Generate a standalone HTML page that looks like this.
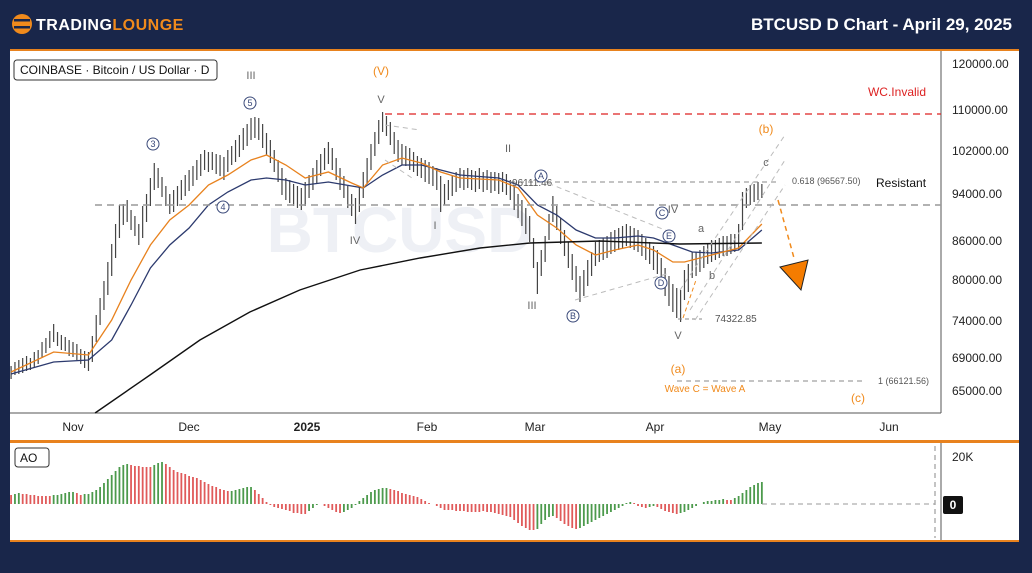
<!DOCTYPE html>
<html><head><meta charset="utf-8"><style>
html,body{margin:0;padding:0;background:#19264a;}
svg{display:block;font-family:"Liberation Sans",sans-serif;}
.ns{vector-effect:non-scaling-stroke;fill:none;}
</style></head><body>
<svg width="1032" height="573" viewBox="0 0 1032 573" xmlns="http://www.w3.org/2000/svg">
<rect width="1032" height="573" fill="#19264a"/>
<circle cx="22" cy="24" r="10" fill="#f08a1c"/>
<rect x="14" y="19" width="16" height="2.5" fill="#19264a"/><rect x="14" y="26" width="16" height="2.5" fill="#19264a"/>
<text x="36" y="30" font-size="16" font-weight="bold" fill="#fff" letter-spacing="0.5">TRADING<tspan fill="#f08a1c">LOUNGE</tspan></text>
<text x="1012" y="30" font-size="17" font-weight="bold" fill="#fff" text-anchor="end">BTCUSD D Chart - April 29, 2025</text>
<rect x="10" y="49" width="1009" height="391" fill="#fff"/>
<rect x="10" y="49" width="1009" height="2" fill="#e8821e"/>
<rect x="10" y="440" width="1009" height="3" fill="#e8821e"/>
<rect x="10" y="443" width="1009" height="98" fill="#fff"/>
<rect x="10" y="540" width="1009" height="2" fill="#e8821e"/>
<line x1="941" y1="51" x2="941" y2="413" stroke="#555"/>
<line x1="10" y1="413" x2="941" y2="413" stroke="#555"/>
<text x="400" y="252" font-size="64" fill="#eef0f5" text-anchor="middle" font-weight="bold">BTCUSD</text>

<g transform="translate(73,0) scale(3.87,1)">
<path class="ns" stroke="#444" stroke-width="1.2" d="M-16,366V379M-15,362V375M-14,360V374M-13,358V373M-12,356V371M-11,358V370M-10,352V367M-9,350V364M-8,342V358M-7,338V353M-6,331V348M-5,324V342M-4,332V346M-3,335V350M-2,337V351M-1,340V356M0,342V357M1,344V360M2,349V364M3,351V368M4,352V371M5,336V362M6,315V342M7,298V325M8,281V310M9,262V295M10,244V276M11,224V258M12,205V238M13,204V225M14,200V222M15,210V230M16,216V236M17,224V245M18,206V238M19,194V222M20,178V206M21,163V190M22,168V188M23,177V197M24,186V206M25,194V214M26,190V212M27,186V206M28,180V200M29,175V196M30,170V191M31,166V186M32,160V180M33,154V176M34,150V170M35,152V172M36,152V170M37,154V174M38,155V176M39,157V180M40,150V172M41,146V165M42,140V162M43,135V157M44,128V150M45,124V146M46,118V140M47,117V138M48,118V140M49,124V148M50,133V155M51,140V163M52,150V172M53,160V182M54,168V195M55,178V200M56,180V203M57,184V206M58,186V208M59,188V210M60,182V206M61,175V198M62,168V190M63,160V183M64,154V176M65,148V170M66,142V164M67,148V170M68,158V180M69,168V190M70,176V198M71,186V208M72,194V216M73,198V224M74,186V212M75,172V198M76,158V184M77,144V170M78,132V156M79,120V144M80,112V132M81,116V136M82,122V145M83,132V154M84,140V162M85,144V165M86,146V166M87,148V170M88,152V172M89,156V176M90,158V178M91,160V182M92,162V184M93,166V186M94,168V190M95,176V212M96,184V205M97,180V200M98,176V196M99,172V192M100,168V188M101,170V190M102,168V188M103,170V190M104,171V192M105,168V189M106,172V192M107,170V190M108,172V193M109,172V191M110,173V194M111,172V192M112,174V195M113,180V200M114,186V210M115,194V218M116,200V226M117,208V234M118,216V242M119,238V268M120,262V294M121,250V276M122,236V262M123,214V240M124,196V222M125,206V230M126,218V244M127,230V256M128,242V268M129,254V280M130,266V292M131,276V302M132,270V296M133,260V286M134,252V276M135,242V266M136,240V262M137,238V260M138,236V258M139,232V254M140,230V252M141,228V250M142,226V248M143,224V246M144,226V248M145,228V250M146,230V252M147,234V256M148,238V260M149,242V264M150,246V270M151,250V274M152,258V284M153,268V296M154,276V306M155,284V312M156,288V318M157,290V322M158,270V300M159,264V292M160,252V278M161,252V276M162,250V272M163,246V268M164,244V264M165,240V262M166,240V260M167,238V258M168,236V256M169,236V256M170,234V254M171,234V252M172,224V250M173,192V230M174,188V208M175,185V205M176,184V202M177,182V200M178,184V198"/>
<path class="ns" stroke="#2c3a6e" stroke-width="1.3" d="M-16,374L-5,362L4,360L10,340L15,305L20,268L25,245L30,228L35,205L40,192L46,180L50,178L55,180L60,185L66,182L72,186L75,188L80,175L85,165L90,165L95,170L100,175L110,178L115,185L120,205L125,215L130,230L135,238L140,238L146,236L150,238L155,245L160,252L165,253L172,250L178,230"/>
<path class="ns" stroke="#e8821e" stroke-width="1.3" d="M-16,372L-5,352L4,355L10,320L15,280L20,245L25,220L30,205L35,185L40,175L46,160L50,155L55,165L60,178L66,172L72,183L75,188L80,165L85,158L90,163L95,172L100,178L110,180L115,188L120,215L125,228L130,245L135,255L140,250L146,245L150,250L155,262L158,262L165,255L172,248L178,224"/>
<path class="ns" stroke="#111" stroke-width="1.4" d="M5.7,413L19.9,375L32.8,340L45.7,312L58.6,290L74.2,270L89.7,258L105.2,248L118.1,243L136.2,241L156.8,244L178,243"/>
<!-- AO -->
<path class="ns" stroke="#4c9a4c" stroke-width="1.8" d="M-15,504V494M-14,504V493M-5,504V495M-4,504V495M-3,504V494M-2,504V493M-1,504V492M0,504V492M3,504V494M4,504V494M5,504V492M6,504V490M7,504V487M8,504V483M9,504V479M10,504V475M11,504V471M12,504V467M13,504V465M14,504V464M21,504V465M22,504V463M23,504V462M41,504V491M42,504V490M43,504V489M44,504V488M45,504V487M46,504V487M61,504V511M62,504V508M63,504V505M64,504V504M70,504V512M71,504V510M72,504V508M73,504V505M74,504V501M75,504V498M76,504V495M77,504V492M78,504V490M79,504V489M80,504V488M81,504V488M120,504V529M121,504V524M122,504V520M123,504V517M124,504V516M131,504V528M132,504V526M133,504V524M134,504V522M135,504V520M136,504V518M137,504V516M138,504V514M139,504V512M140,504V510M141,504V508M142,504V506M143,504V503M144,504V502M149,504V507M150,504V506M157,504V513M158,504V512M159,504V510M160,504V508M161,504V506M162,504V504M163,504V502M164,504V501M165,504V501M166,504V500M167,504V500M168,504V499M171,504V498M172,504V496M173,504V493M174,504V490M175,504V487M176,504V485M177,504V483M178,504V482"/>
<path class="ns" stroke="#e05a5a" stroke-width="1.8" d="M-16,504V495M-13,504V494M-12,504V494M-11,504V495M-10,504V495M-9,504V496M-8,504V496M-7,504V496M-6,504V496M1,504V493M2,504V495M15,504V465M16,504V466M17,504V466M18,504V467M19,504V467M20,504V467M24,504V464M25,504V467M26,504V470M27,504V472M28,504V473M29,504V474M30,504V476M31,504V477M32,504V478M33,504V480M34,504V482M35,504V484M36,504V486M37,504V487M38,504V489M39,504V490M40,504V491M47,504V490M48,504V494M49,504V498M50,504V502M51,504V505M52,504V507M53,504V508M54,504V509M55,504V510M56,504V511M57,504V513M58,504V513M59,504V514M60,504V514M65,504V506M66,504V508M67,504V510M68,504V512M69,504V513M82,504V489M83,504V490M84,504V491M85,504V493M86,504V494M87,504V495M88,504V496M89,504V497M90,504V499M91,504V501M92,504V503M93,504V504M94,504V506M95,504V508M96,504V510M97,504V510M98,504V510M99,504V511M100,504V511M101,504V511M102,504V512M103,504V512M104,504V512M105,504V512M106,504V511M107,504V512M108,504V512M109,504V513M110,504V514M111,504V515M112,504V516M113,504V517M114,504V520M115,504V523M116,504V526M117,504V528M118,504V530M119,504V530M125,504V518M126,504V521M127,504V524M128,504V526M129,504V528M130,504V529M145,504V503M146,504V506M147,504V507M148,504V508M151,504V507M152,504V509M153,504V511M154,504V512M155,504V513M156,504V514M169,504V500M170,504V500"/>
</g>

<g font-size="12" fill="#222">
<text x="952" y="68">120000.00</text><text x="952" y="114">110000.00</text><text x="952" y="155">102000.00</text>
<text x="952" y="198">94000.00</text><text x="952" y="245">86000.00</text><text x="952" y="284">80000.00</text>
<text x="952" y="325">74000.00</text><text x="952" y="362">69000.00</text><text x="952" y="395">65000.00</text>
</g>
<g font-size="12" fill="#222" text-anchor="middle">
<text x="73" y="431">Nov</text><text x="189" y="431">Dec</text><text x="307" y="431" font-weight="bold">2025</text>
<text x="427" y="431">Feb</text><text x="535" y="431">Mar</text><text x="655" y="431">Apr</text>
<text x="770" y="431">May</text><text x="889" y="431">Jun</text>
</g>
<rect x="14" y="60" width="203" height="20" rx="3" fill="#fff" stroke="#333"/>
<text x="20" y="74" font-size="12" fill="#111">COINBASE · Bitcoin / US Dollar · D</text>
<line x1="935" y1="446" x2="935" y2="538" stroke="#888" stroke-dasharray="5,4"/>
<line x1="941" y1="443" x2="941" y2="540" stroke="#555"/>
<line x1="762" y1="504" x2="935" y2="504" stroke="#999" stroke-dasharray="5,4"/>
<text x="952" y="461" font-size="12" fill="#222">20K</text>
<rect x="943" y="496" width="20" height="18" rx="2" fill="#111"/>
<text x="953" y="509" font-size="12" fill="#fff" text-anchor="middle" font-weight="bold">0</text>
<rect x="15" y="448" width="34" height="19" rx="3" fill="#fff" stroke="#333"/>
<text x="20" y="462" font-size="12" fill="#111">AO</text>

<line x1="385" y1="114" x2="941" y2="114" stroke="#d22" stroke-width="1.3" stroke-dasharray="7,5"/>
<text x="897" y="96" font-size="12" fill="#d22" text-anchor="middle">WC.Invalid</text>
<line x1="95" y1="205" x2="941" y2="205" stroke="#999" stroke-width="1.5" stroke-dasharray="7,5"/>
<line x1="510" y1="182" x2="778" y2="182" stroke="#888" stroke-dasharray="5,4"/>
<text x="792" y="184" font-size="9" fill="#555">0.618 (96567.50)</text>
<text x="876" y="187" font-size="12" fill="#111">Resistant</text>
<line x1="677" y1="381" x2="862" y2="381" stroke="#888" stroke-dasharray="5,4"/>
<text x="878" y="384" font-size="9" fill="#555">1 (66121.56)</text>
<line x1="678" y1="319" x2="702" y2="319" stroke="#888" stroke-dasharray="4,3"/>
<text x="715" y="322" font-size="10" fill="#555">74322.85</text>
<text x="512" y="186" font-size="10" fill="#555">96111.46</text>
<g stroke="#bbb" stroke-dasharray="5,4" fill="none">
<line x1="680" y1="290" x2="785" y2="135"/><line x1="690" y1="310" x2="785" y2="160"/><line x1="695" y1="320" x2="785" y2="185"/>
<line x1="540" y1="180" x2="670" y2="232"/><line x1="575" y1="300" x2="670" y2="273"/>
<line x1="385" y1="125" x2="420" y2="130"/><line x1="385" y1="160" x2="415" y2="180"/>
</g>
<line x1="683" y1="318" x2="696" y2="280" stroke="#f08a1c" stroke-dasharray="4,3"/>
<line x1="778" y1="200" x2="794" y2="258" stroke="#f08a1c" stroke-width="1.5" stroke-dasharray="5,4"/>
<polygon points="780,267 808,260 801,290" fill="#f57c00" stroke="#222"/>
<g font-size="11" fill="#666" text-anchor="middle">
<text x="251" y="79">III</text><text x="381" y="103">V</text><text x="355" y="244">IV</text>
<text x="508" y="152">II</text><text x="435" y="229">I</text><text x="532" y="309">III</text>
<text x="678" y="339">V</text><text x="701" y="232">a</text><text x="712" y="279">b</text><text x="766" y="166">c</text>
<text x="673" y="213">IV</text>
</g>
<g fill="#fff" stroke="#3b4a7a"><circle cx="250" cy="103" r="6"/><circle cx="153" cy="144" r="6"/><circle cx="223" cy="207" r="6"/>
<circle cx="541" cy="176" r="6"/><circle cx="573" cy="316" r="6"/><circle cx="662" cy="213" r="6"/><circle cx="669" cy="236" r="6"/><circle cx="661" cy="283" r="6"/></g>
<g font-size="9" fill="#3b4a7a" text-anchor="middle">
<text x="250" y="106">5</text><text x="153" y="147">3</text><text x="223" y="210">4</text><text x="541" y="179">A</text>
<text x="573" y="319">B</text><text x="662" y="216">C</text><text x="669" y="239">E</text><text x="661" y="286">D</text></g>
<g font-size="12" fill="#f08a1c" text-anchor="middle">
<text x="381" y="75">(V)</text><text x="766" y="133">(b)</text><text x="678" y="373">(a)</text><text x="858" y="402">(c)</text>
<text x="705" y="392" font-size="10">Wave C = Wave A</text></g>
</svg>
</body></html>
